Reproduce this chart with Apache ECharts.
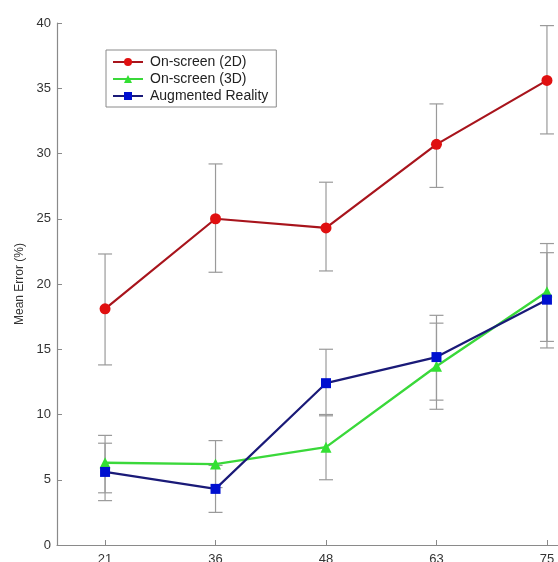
<!DOCTYPE html>
<html>
<head>
<meta charset="utf-8">
<script src="https://cdn.jsdelivr.net/npm/echarts@6/dist/echarts.min.js"></script>
<style>html,body{margin:0;padding:0;background:#fff}#c{width:558px;height:562px}</style>
</head>
<body>
<div id="c"></div>
<script>
const categories = ['21', '36', '48', '63', '75'];
const yTicks = [0, 5, 10, 15, 20, 25, 30, 35, 40];

const names = ['On-screen (2D)', 'On-screen (3D)', 'Augmented Reality'];

const mean2D = [18.1, 25.0, 24.3, 30.7, 35.6];
const low2D  = [13.8, 20.9, 21.0, 27.4, 31.5];
const high2D = [22.3, 29.2, 27.8, 33.8, 39.8];

const mean3D = [6.3, 6.2, 7.5, 13.7, 19.4];
const low3D  = [4.0, 4.4, 5.0, 10.4, 15.6];
const high3D = [8.4, 8.0, 10.0, 17.0, 23.1];

const meanAR = [5.6, 4.3, 12.4, 14.4, 18.8];
const lowAR  = [3.4, 2.5, 9.9, 11.1, 15.1];
const highAR = [7.8, 6.1, 15.0, 17.6, 22.4];

const xPos = categories.map((c, i) => i + 1);
const pts = arr => arr.map((v, i) => [xPos[i], v]);
const errData = (lo, hi) => lo.map((v, i) => [xPos[i], v, hi[i]]);

function errSeries(lo, hi) {
  return {
    type: 'custom',
    silent: true,
    z: 1,
    data: errData(lo, hi),
    renderItem: function (params, api) {
      const x = api.value(0);
      const a = api.coord([x, api.value(1)]);
      const b = api.coord([x, api.value(2)]);
      const hw = 7;
      const st = { stroke: '#9a9a9a', lineWidth: 1.2 };
      return {
        type: 'group',
        children: [
          { type: 'line', shape: { x1: a[0], y1: a[1], x2: b[0], y2: b[1] }, style: st },
          { type: 'line', shape: { x1: a[0] - hw, y1: a[1], x2: a[0] + hw, y2: a[1] }, style: st },
          { type: 'line', shape: { x1: b[0] - hw, y1: b[1], x2: b[0] + hw, y2: b[1] }, style: st }
        ]
      };
    }
  };
}

const chart = echarts.init(document.getElementById('c'), null, { renderer: 'canvas' });
const font = 'Liberation Sans, Arial, sans-serif';
chart.setOption({
  animation: false,
  textStyle: { fontFamily: font },
  grid: { left: 57, right: 0, top: 23, bottom: 17, containLabel: false, outerBoundsMode: 'none' },
  legend: {
    orient: 'vertical',
    left: 106, top: 50,
    padding: [5, 8, 4, 6],
    itemWidth: 30, itemHeight: 10, itemGap: 3,
    borderColor: '#8a8a8a', borderWidth: 1,
    backgroundColor: '#fff',
    textStyle: { fontFamily: font, fontSize: 14, color: '#222', padding: [0, 0, 0, 2] },
    data: names
  },
  xAxis: {
    type: 'value',
    min: 0.565, max: 5.1,
    splitLine: { show: false },
    axisLine: { lineStyle: { color: '#8a8a8a', width: 1.2 } },
    axisTick: { inside: true, length: 5, customValues: xPos, lineStyle: { color: '#8a8a8a' } },
    axisLabel: {
      customValues: xPos,
      margin: 8,
      fontSize: 13, color: '#333', fontFamily: font,
      formatter: v => categories[Math.round(v) - 1]
    }
  },
  yAxis: {
    type: 'value',
    min: yTicks[0], max: yTicks[yTicks.length - 1], interval: 5,
    name: 'Mean Error (%)',
    nameLocation: 'middle', nameGap: 24, nameRotate: 90,
    nameTextStyle: { fontSize: 12, color: '#333', fontFamily: font },
    splitLine: { show: false },
    axisLine: { show: true, lineStyle: { color: '#8a8a8a', width: 1.2 } },
    axisTick: { show: true, inside: true, length: 5, lineStyle: { color: '#8a8a8a' } },
    axisLabel: { margin: 6, fontSize: 13, color: '#333', fontFamily: font }
  },
  series: [
    errSeries(low2D, high2D),
    errSeries(low3D, high3D),
    errSeries(lowAR, highAR),
    {
      name: names[0], type: 'line', data: pts(mean2D), z: 3,
      symbol: 'circle', symbolSize: 11,
      lineStyle: { color: '#a8141c', width: 2.2 },
      itemStyle: { color: '#e01010' }
    },
    {
      name: names[1], type: 'line', data: pts(mean3D), z: 4,
      symbol: 'triangle', symbolSize: 11,
      lineStyle: { color: '#3ad83a', width: 2.4 },
      itemStyle: { color: '#33e033' }
    },
    {
      name: names[2], type: 'line', data: pts(meanAR), z: 5,
      symbol: 'rect', symbolSize: 10,
      lineStyle: { color: '#1a1a78', width: 2.2 },
      itemStyle: { color: '#0010d0' }
    }
  ]
});
</script>
</body>
</html>
